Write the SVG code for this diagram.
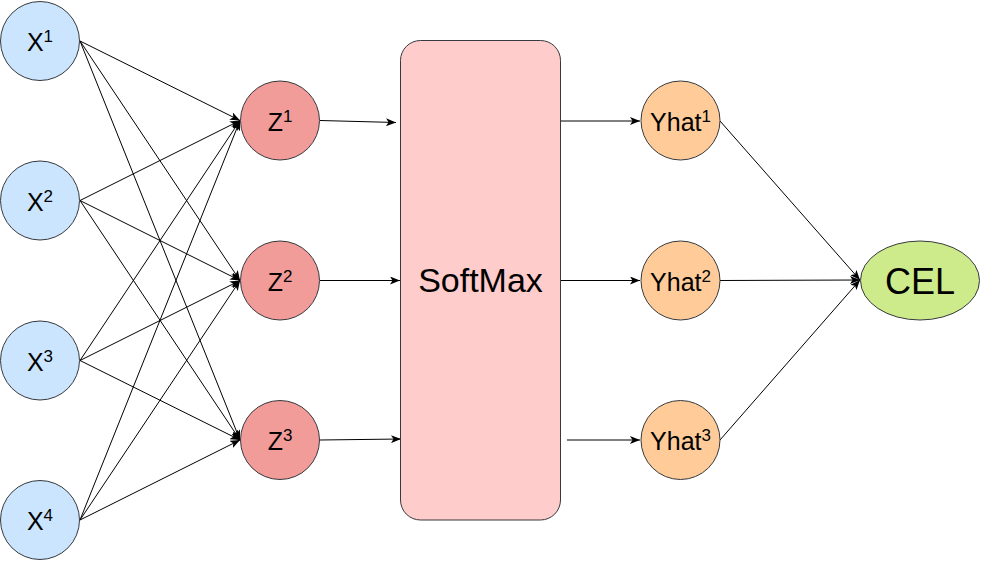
<svg xmlns="http://www.w3.org/2000/svg" width="981" height="562" viewBox="0 0 981 562">
<style>
.nd{stroke:#36393d;stroke-width:1}
.x{fill:#cce5ff}
.z{fill:#f19c99}
.sm{fill:#ffcccc}
.y{fill:#ffcc99}
.cel{fill:#cdeb8b}
.t{font-family:"Liberation Sans",Arial,sans-serif;font-size:25px;fill:#000;text-anchor:middle}
.sup{font-size:17px}
.c{fill:none;stroke:#000;stroke-width:1}
</style>
<defs>
<marker id="ah" markerUnits="userSpaceOnUse" markerWidth="10" markerHeight="8" refX="10" refY="4" orient="auto">
<path d="M0,0 L10,4 L0,8 L2.5,4 z" fill="#000"/>
</marker>
</defs>
<g id="connectors" class="c" marker-end="url(#ah)">
<line x1="80" y1="41" x2="240" y2="120.5"/>
<line x1="80" y1="41" x2="240" y2="280.5"/>
<line x1="80" y1="41" x2="240" y2="440"/>
<line x1="80" y1="200.5" x2="240" y2="120.5"/>
<line x1="80" y1="200.5" x2="240" y2="280.5"/>
<line x1="80" y1="200.5" x2="240" y2="440"/>
<line x1="80" y1="360.5" x2="240" y2="120.5"/>
<line x1="80" y1="360.5" x2="240" y2="280.5"/>
<line x1="80" y1="360.5" x2="240" y2="440"/>
<line x1="80" y1="520" x2="240" y2="120.5"/>
<line x1="80" y1="520" x2="240" y2="280.5"/>
<line x1="80" y1="520" x2="240" y2="440"/>
<line x1="320" y1="120.5" x2="396" y2="122.5"/>
<line x1="320" y1="280.5" x2="400" y2="280.5"/>
<line x1="320" y1="440" x2="401" y2="439"/>
<line x1="560" y1="121" x2="640" y2="121"/>
<line x1="560" y1="280.5" x2="640" y2="280.5"/>
<line x1="567" y1="440" x2="640" y2="440"/>
<line x1="720" y1="121" x2="860" y2="280"/>
<line x1="720" y1="280.5" x2="860" y2="280"/>
<line x1="720" y1="440" x2="860" y2="280"/>
</g>
<g id="x1"><circle class="nd x" cx="40" cy="41" r="39.5"/><text class="t" x="40" y="51">X<tspan class="sup" dy="-9">1</tspan></text></g>
<g id="x2"><circle class="nd x" cx="40" cy="200.5" r="39.5"/><text class="t" x="40" y="210.5">X<tspan class="sup" dy="-9">2</tspan></text></g>
<g id="x3"><circle class="nd x" cx="40" cy="360.5" r="39.5"/><text class="t" x="40" y="370.5">X<tspan class="sup" dy="-9">3</tspan></text></g>
<g id="x4"><circle class="nd x" cx="40" cy="520" r="39.5"/><text class="t" x="40" y="530">X<tspan class="sup" dy="-9">4</tspan></text></g>
<g id="z1"><circle class="nd z" cx="280" cy="120.5" r="39.5"/><text class="t" x="280" y="130.5">Z<tspan class="sup" dy="-9">1</tspan></text></g>
<g id="z2"><circle class="nd z" cx="280" cy="280.5" r="39.5"/><text class="t" x="280" y="290.5">Z<tspan class="sup" dy="-9">2</tspan></text></g>
<g id="z3"><circle class="nd z" cx="280" cy="440" r="39.5"/><text class="t" x="280" y="450">Z<tspan class="sup" dy="-9">3</tspan></text></g>
<g id="softmax"><rect class="nd sm" x="400.5" y="40.5" width="160" height="479.5" rx="20" ry="20"/><text class="t" x="480.5" y="292" style="font-size:34px">SoftMax</text></g>
<g id="yhat1"><circle class="nd y" cx="680.5" cy="120.5" r="39.5"/><text class="t" x="680.5" y="130.5">Yhat<tspan class="sup" dy="-9">1</tspan></text></g>
<g id="yhat2"><circle class="nd y" cx="680.5" cy="280.5" r="39.5"/><text class="t" x="680.5" y="290.5">Yhat<tspan class="sup" dy="-9">2</tspan></text></g>
<g id="yhat3"><circle class="nd y" cx="680.5" cy="440" r="39.5"/><text class="t" x="680.5" y="450">Yhat<tspan class="sup" dy="-9">3</tspan></text></g>
<g id="cel"><ellipse class="nd cel" cx="920" cy="280.5" rx="59.5" ry="39.5"/><text class="t" x="920" y="293.5" style="font-size:36px">CEL</text></g>
</svg>
